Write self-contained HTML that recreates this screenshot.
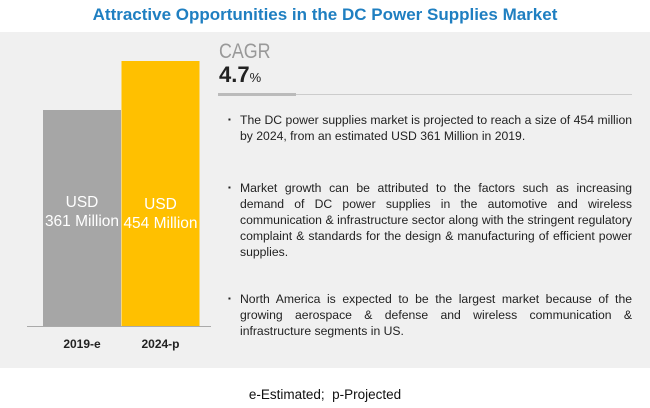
<!DOCTYPE html>
<html><head><meta charset="utf-8"><style>
body{margin:0;width:650px;height:408px;background:#fff;font-family:"Liberation Sans",sans-serif;position:relative;overflow:hidden}
#title{position:absolute;top:5px;left:0;width:650px;text-align:center;color:#1f7fc1;font-weight:bold;font-size:17px}
#panel{position:absolute;left:0;top:32px;width:650px;height:336px;background:#f0f0f0}
svg{position:absolute;left:0;top:0}
.b{position:absolute;left:228px;width:404px;font-size:12.2px;line-height:16px;color:#222;text-align:justify;padding-left:12px;box-sizing:border-box}
.b:before{content:"▪";position:absolute;left:0;font-size:8px}
#foot{position:absolute;top:387px;left:0;width:650px;text-align:center;font-size:13.5px;color:#111}
</style></head><body>
<div id="title">Attractive Opportunities in the DC Power Supplies Market</div>
<div id="panel"></div>
<svg id="c" width="650" height="408"></svg>
<div style="position:absolute;left:219px;top:40px;font-size:21px;color:#999;transform:scaleX(0.85);transform-origin:left">CAGR</div>
<div style="position:absolute;left:219px;top:62px;font-size:22px;color:#222;font-weight:bold">4.7<span style="font-size:13px;font-weight:normal">%</span></div>
<div style="position:absolute;left:218px;top:94px;width:414px;height:1px;background:#ccc"></div>
<div style="position:absolute;left:218px;top:93px;width:78px;height:3px;background:#bbb"></div>
<div class="b" style="top:112px">The DC power supplies market is projected to reach a size of 454 million by 2024, from an estimated USD 361 Million in 2019.</div>
<div class="b" style="top:180px">Market growth can be attributed to the factors such as increasing demand of DC power supplies in the automotive and wireless communication &amp; infrastructure sector along with the stringent regulatory complaint &amp; standards for the design &amp; manufacturing of efficient power supplies.</div>
<div class="b" style="top:291px">North America is expected to be the largest market because of the growing aerospace &amp; defense and wireless communication &amp; infrastructure segments in US.</div>
<div id="foot">e-Estimated;&nbsp; p-Projected</div>
<script>
const categories=["2019-e","2024-p"];
const values=[361,454];
const valueLabels=["361 Million","454 Million"];
const colors=["#a6a6a6","#ffc000"];
const NS="http://www.w3.org/2000/svg";
const svg=document.getElementById('c');
const base=326, v0=-49, k=265/(454-v0);
function y(v){return base-(v-v0)*k;}
function x(i){return 43+i*78.5;}
function mk(t,a){const e=document.createElementNS(NS,t);for(const p in a)e.setAttribute(p,a[p]);svg.appendChild(e);return e;}
categories.forEach((c,i)=>{
  const r=mk('rect',{x:x(i),y:y(values[i]),width:78,height:base-y(values[i]),fill:colors[i]});
  
  
  const cy=212+(i?2:0);
  const t1=mk('text',{x:x(i)+39,y:cy-5,'text-anchor':'middle',fill:'#fff','font-size':'15.5','font-family':'Liberation Sans'});
  t1.textContent='USD';
  
  
  const t2=mk('text',{x:x(i)+39,y:cy+14,'text-anchor':'middle',fill:'#fff','font-size':'15.5','font-family':'Liberation Sans'});
  t2.textContent=valueLabels[i];
  
  
  const l=mk('text',{x:x(i)+39,y:348,'text-anchor':'middle',fill:'#222','font-size':'12','font-weight':'bold','font-family':'Liberation Sans'});
  l.textContent=c;
  
  
});
const ax=mk('line',{x1:27,x2:211,y1:base+0.5,y2:base+0.5,stroke:'#aaa','stroke-width':1});


</script>
</body></html>
